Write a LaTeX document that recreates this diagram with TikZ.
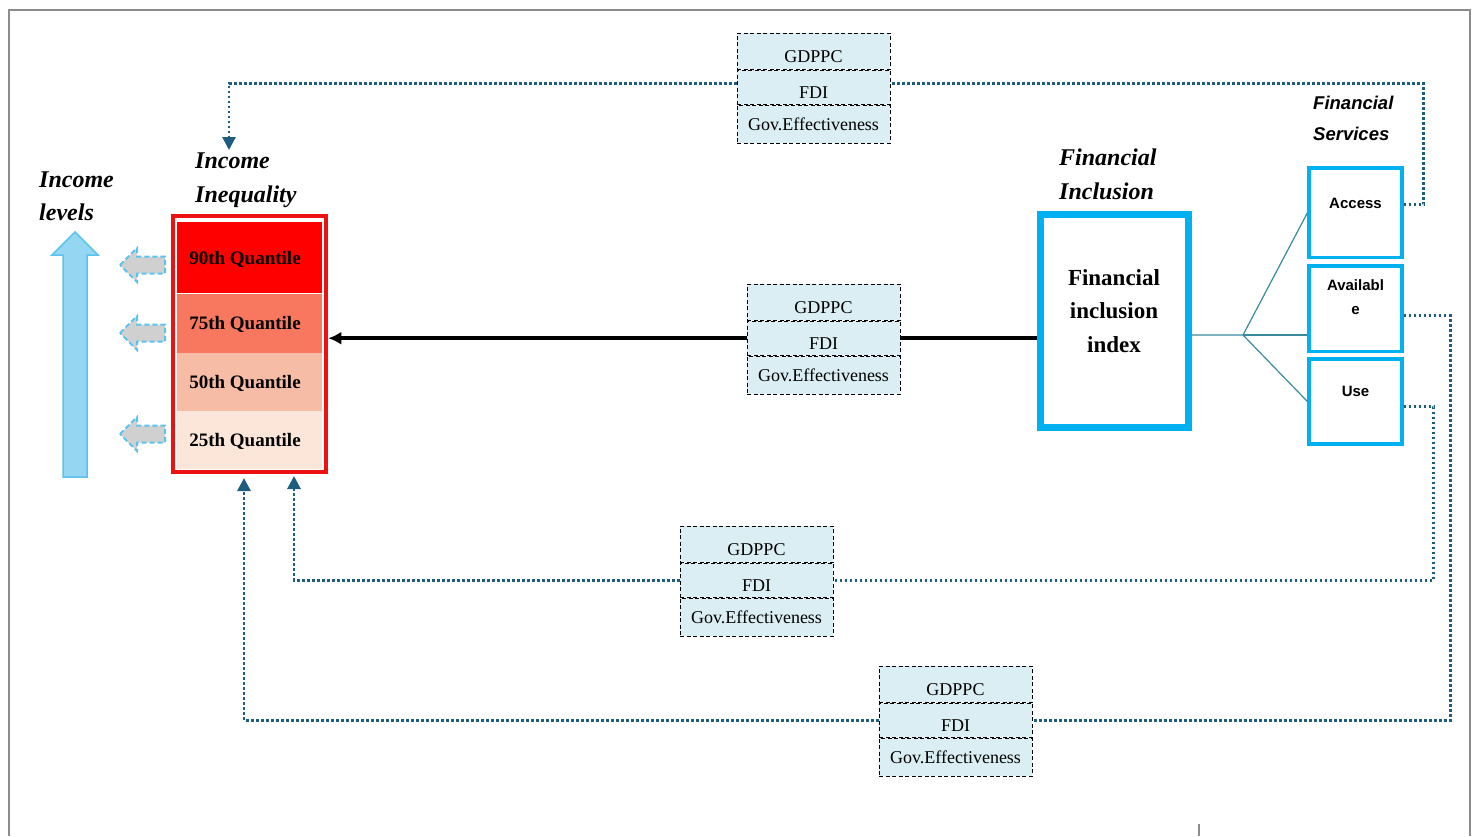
\documentclass[tikz,border=0pt]{standalone}
\usepackage{fontspec}
\setmainfont{Liberation Serif}
\setsansfont{Liberation Sans}
\usetikzlibrary{arrows.meta,positioning}

\definecolor{fiblue}{HTML}{00B0F0}
\definecolor{ctrlfill}{HTML}{DAEEF3}
\definecolor{linkblue}{HTML}{1D5D80}
\definecolor{treeteal}{HTML}{3A8A9E}
\definecolor{qframe}{HTML}{EE1111}
\definecolor{qred}{HTML}{FF0000}
\definecolor{qsalmon}{HTML}{F8785F}
\definecolor{qpeach}{HTML}{F7BCA6}
\definecolor{qcream}{HTML}{FCE6D9}
\definecolor{arrowblue}{HTML}{95D7F3}
\definecolor{arrowedge}{HTML}{5CC3EE}
\definecolor{arrowgrey}{HTML}{D0D0D0}
\definecolor{framegrey}{HTML}{8C8C8C}

\tikzset{
  ctrlrow/.style={draw, line width=0.8pt, dash pattern=on 4pt off 2.5pt, fill=ctrlfill,
    minimum width=153pt, inner sep=0pt, font=\fontsize{18}{20}\selectfont,
    text height=12.5pt, text depth=0pt},
  lowtext/.style={text height=23pt, text depth=-8pt},
  qrow/.style={minimum width=145pt, inner sep=0pt, font=\fontsize{19}{21}\selectfont\bfseries,
    text height=13pt, text depth=0pt},
  svcbox/.style={draw=fiblue, line width=3.2pt, minimum width=93pt, inner sep=0pt,
    font=\fontsize{15}{23.4}\selectfont\sffamily\bfseries, align=center, text height=11pt},
  heading/.style={inner sep=0pt, anchor=north west, align=left,
    font=\fontsize{24}{33.3}\selectfont\bfseries\itshape},
  link/.style={draw=linkblue, line width=2.8pt, dash pattern=on 2.8pt off 2.2pt},
  linktip/.style={-{Triangle[length=13pt,width=13pt]}},
  tree/.style={draw=treeteal, line width=1.2pt},
  levelarrow/.style={fill=arrowgrey, draw=arrowedge, line width=2pt, dash pattern=on 5pt off 3pt},
}

% three dashed rows of control variables: name, x centre, y top
\newcommand{\ctrlbox}[3]{%
  \node[ctrlrow, lowtext, minimum height=36pt, anchor=north] (#1-g) at (#2,#3) {GDPPC};
  \node[ctrlrow, lowtext, minimum height=34pt, below=0pt of #1-g] (#1-f) {FDI};
  \node[ctrlrow, minimum height=38pt, below=0pt of #1-f] (#1-e) {Gov.Effectiveness};
}

\begin{document}
\begin{tikzpicture}[x=1pt, y=-1pt]

\useasboundingbox (0,0) rectangle (1475,836);

% page frame
\draw[framegrey, line width=1.5pt] (9,836) -- (9,10) -- (1470,10) -- (1470,836);
\draw[framegrey, line width=1.2pt] (1199,824) -- (1199,836);

% income levels
\node[heading, font=\fontsize{24}{32.5}\selectfont\bfseries\itshape] (levlabel) at (39,172) {Income\\levels};
\draw[fill=arrowblue, draw=arrowedge, line width=1.5pt]
  (63,477) -- (63,255) -- (52,255) -- (75,232) -- (98,255) -- (87,255) -- (87,477) -- cycle;
\foreach \ya in {265,333,434} {
  \draw[levelarrow] (120,\ya) -- (137,\ya-17) -- (137,\ya-8.5) -- (165,\ya-8.5)
    -- (165,\ya+8.5) -- (137,\ya+8.5) -- (137,\ya+17) -- cycle;
}

% income inequality
\node[heading] (iqlabel) at (195,153) {Income\\Inequality};
\node[qrow, fill=qred, minimum height=71pt, anchor=north] (q90) at (249.5,222) {90th Quantile\hspace*{9pt}};
\node[qrow, fill=qsalmon, minimum height=59pt, below=0pt of q90] (q75) {75th Quantile\hspace*{9pt}};
\node[qrow, fill=qpeach, minimum height=58pt, below=0pt of q75] (q50) {50th Quantile\hspace*{9pt}};
\node[qrow, fill=qcream, minimum height=58pt, below=0pt of q50] (q25) {25th Quantile\hspace*{9pt}};
\node[draw=qframe, line width=4.5pt, minimum width=153pt, minimum height=256pt, inner sep=0pt] (iq) at (249.5,344) {};

% control variables
\ctrlbox{top}{813.5}{33}
\ctrlbox{mid}{823.5}{284}
\ctrlbox{lowa}{756.5}{526}
\ctrlbox{lowb}{955.5}{666}

% financial inclusion
\node[heading] (filabel) at (1059,149) {Financial\\Inclusion};
\node[draw=fiblue, line width=7pt, minimum width=148pt, minimum height=213pt, inner sep=0pt] (fibox) at (1114,320.5) {};
\node[anchor=north, inner sep=0pt, align=center, font=\fontsize{23}{33.3}\selectfont\bfseries] (fitext) at (1114,269.5) {Financial\\inclusion\\index};

% financial services
\node[heading, font=\fontsize{18.5}{31}\selectfont\sffamily\bfseries\itshape] (fslabel) at (1313,96) {Financial\\Services};
\node[svcbox, minimum height=89.7pt, text depth=20pt] (access) at (1355.5,212.8) {Access};
\node[svcbox, minimum height=85.5pt, text depth=-3pt] (avail) at (1355.5,308.7) {Availabl\\e};
\node[svcbox, minimum height=85pt, text depth=20.6pt] (use) at (1355.5,401.5) {Use};

\coordinate (fork) at (1243,335);
\draw[tree] (fibox.east |- fork) -- (fork) -- (access.west);
\draw[tree] (fork) -- (avail.west |- fork);
\draw[tree] (fork) -- (use.west);

% main effect
\draw[line width=4pt] (fibox.west |- mid-f.east) -- (mid-f.east);
\draw[line width=3.5pt, -{Latex[length=13pt,width=13pt]}] (mid-f.west) -- (mid-f.west -| iq.east);

% channels
\coordinate (iqtop) at (229,150);
\coordinate (tipa) at (244,478);
\coordinate (tipb) at (294,476);

\draw[link] ([yshift=8pt]access.east) -- ++(20,0) |- ([yshift=4pt]top-f.east);
\draw[link, linktip] ([yshift=4pt]top-f.west) -| (iqtop);

\draw[link] ([yshift=-5pt]use.east) -- ++(30,0) |- (lowa-f.east);
\draw[link, linktip] (lowa-f.west) -| (tipb);

\draw[link] ([yshift=-7pt]avail.east) -- ++(47,0) |- (lowb-f.east);
\draw[link, linktip] (lowb-f.west) -| (tipa);

\end{tikzpicture}
\end{document}
